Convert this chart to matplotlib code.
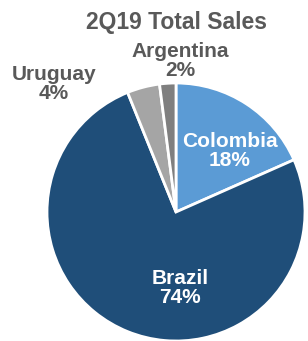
import matplotlib.pyplot as plt

# data
countries = ["Colombia", "Brazil", "Uruguay", "Argentina"]
shares = [18, 74, 4, 2]
colors = ["#5B9BD5", "#1F4E79", "#A5A5A5", "#7F7F7F"]
title = "2Q19 Total Sales"

plt.rcParams['font.family'] = ['Liberation Sans', 'DejaVu Sans']

W, H = 308, 341
fig = plt.figure(figsize=(W / 100, H / 100), dpi=100)
ax = fig.add_axes([0, 0, 1, 1])

# pie, clockwise from 12 o'clock
ax.pie(shares, colors=colors, startangle=90, counterclock=False,
       center=(176, H - 212), radius=129, frame=True,
       wedgeprops=dict(edgecolor='white', linewidth=2))
ax.set_xlim(0, W)
ax.set_ylim(0, H)
ax.set_aspect('equal')
ax.axis('off')

labels = [f"{c}\n{s}%" for c, s in zip(countries, shares)]
# label positions in pixels (x, y from top)
pos = {"Colombia": (230, 151), "Brazil": (180, 288),
       "Uruguay": (54, 84), "Argentina": (180, 61)}
inside = {"Colombia", "Brazil"}
for c, lab in zip(countries, labels):
    x, y = pos[c]
    ax.text(x, H - y, lab, ha='center', va='center', fontsize=15,
            fontweight='bold', linespacing=1.0,
            color='white' if c in inside else '#595959')

ax.text(176, H - 23, title, ha='center', va='center', fontsize=16.5,
        fontweight='bold', color='#595959')

fig.savefig("out.png", dpi=100)
